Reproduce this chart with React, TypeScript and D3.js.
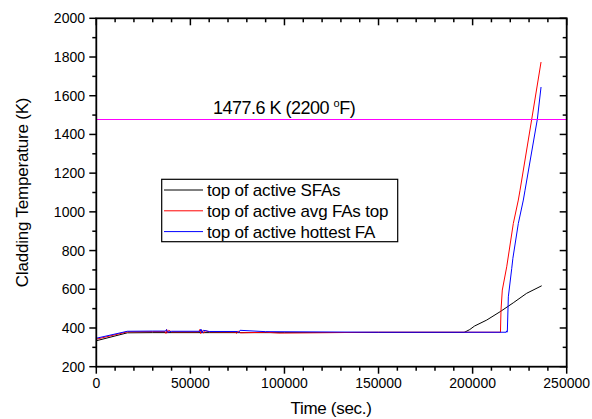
import React from "react";
import * as d3 from "d3";

const xTicks = [0, 50000, 100000, 150000, 200000, 250000];
const yTicks = [200, 400, 600, 800, 1000, 1200, 1400, 1600, 1800, 2000];

const sfaTime = [0, 16500, 30000, 60000, 100000, 150000, 195500, 198500, 201000, 207500, 214600, 221600, 228700, 236700];
const sfaTemp = [334, 375, 376, 376, 376, 377, 377, 392, 410, 441, 484, 530, 579, 618];

const avgTime = [0, 16500, 30000, 36500, 37000, 37400, 37800, 38500, 40000, 54500, 55000, 55500, 56000, 57000, 58000, 60000, 74000, 74500, 75500, 76500, 90000, 97000, 150000, 214800, 215090, 215780, 218120, 221630, 224290, 225200, 231420, 236360];
const avgTemp = [342, 380, 381, 381, 372, 392, 374, 388, 380, 380, 392, 371, 390, 373, 386, 380, 379, 372, 385, 375, 378, 374, 378, 378, 493, 596, 716, 940, 1061, 1112, 1479, 1774];

const hotTime = [0, 16500, 30000, 36800, 37300, 37900, 40000, 55200, 55600, 56300, 57000, 60000, 75000, 75600, 76400, 90000, 150000, 217800, 218100, 218300, 218450, 218980, 220790, 221400, 224290, 226950, 227860, 234400, 236360];
const hotTemp = [347, 383, 384, 384, 392, 378, 383, 383, 394, 375, 388, 382, 382, 376, 388, 381, 378, 378, 385, 378, 381, 561, 708, 760, 940, 1061, 1112, 1479, 1645];

const limitTemp = 1477.6;

const legendItems = [
  { label: "top of active SFAs", color: "#000000" },
  { label: "top of active avg FAs top", color: "#ff0000" },
  { label: "top of active hottest FA", color: "#0000ff" },
];

export default function App() {
  const W = 592, H = 419;
  const left = 96.3, right = 566.7, top = 18.3, bottom = 366.7;
  const x = d3.scaleLinear().domain([0, 250000]).range([left, right]);
  const y = d3.scaleLinear().domain([200, 2000]).range([bottom, top]);

  const mk = (ts: number[], vs: number[]) =>
    d3.line<number>().x((_, i) => x(ts[i])).y((v) => y(v))(vs) || "";

  const xMinor = d3.range(0, 250001, 10000).filter((v) => v % 50000 !== 0);
  const yMinor = d3.range(300, 2000, 200);
  const font = "Liberation Sans, Arial, sans-serif";

  return (
    <svg width={W} height={H} style={{ position: "absolute", left: 0, top: 0, background: "#fff" }}>
      <rect x={0} y={0} width={W} height={H} fill="#fff" />
      {/* data */}
      <path d={mk(sfaTime, sfaTemp)} fill="none" stroke="#000" strokeWidth={1} />
      <path d={mk(avgTime, avgTemp)} fill="none" stroke="#ff0000" strokeWidth={1} />
      <path d={mk(hotTime, hotTemp)} fill="none" stroke="#0000ff" strokeWidth={1} />
      {/* limit line */}
      <line x1={left} x2={right} y1={Math.floor(y(limitTemp)) + 0.5} y2={Math.floor(y(limitTemp)) + 0.5} stroke="#ff00ff" strokeWidth={1} />
      <text x={213} y={114} fontFamily={font} fontSize={18} letterSpacing={-0.5} fill="#000">
        1477.6 K (2200 <tspan dy={-7} fontSize={11}>o</tspan><tspan dy={7}>F)</tspan>
      </text>
      {/* frame */}
      <rect x={left} y={top} width={right - left} height={bottom - top} fill="none" stroke="#000" strokeWidth={1.8} />
      {/* x ticks */}
      {xTicks.map((t) => (
        <g key={"xt" + t}>
          <line x1={x(t)} x2={x(t)} y1={bottom} y2={bottom + 7} stroke="#000" strokeWidth={1.5} />
          <line x1={x(t)} x2={x(t)} y1={top} y2={top + 7} stroke="#000" strokeWidth={1.5} />
          <text x={x(t)} y={388} textAnchor="middle" fontFamily={font} fontSize={14} fill="#000">{t}</text>
        </g>
      ))}
      {xMinor.map((t) => (
        <g key={"xm" + t}>
          <line x1={x(t)} x2={x(t)} y1={bottom} y2={bottom + 4} stroke="#000" strokeWidth={1.5} />
          <line x1={x(t)} x2={x(t)} y1={top} y2={top + 4} stroke="#000" strokeWidth={1.5} />
        </g>
      ))}
      {/* y ticks */}
      {yTicks.map((t) => (
        <g key={"yt" + t}>
          <line x1={left - 7} x2={left} y1={y(t)} y2={y(t)} stroke="#000" strokeWidth={1.5} />
          <line x1={right - 7} x2={right} y1={y(t)} y2={y(t)} stroke="#000" strokeWidth={1.5} />
          <text x={85} y={y(t) + 5} textAnchor="end" fontFamily={font} fontSize={14} fill="#000">{t}</text>
        </g>
      ))}
      {yMinor.map((t) => (
        <g key={"ym" + t}>
          <line x1={left - 4} x2={left} y1={y(t)} y2={y(t)} stroke="#000" strokeWidth={1.5} />
          <line x1={right - 4} x2={right} y1={y(t)} y2={y(t)} stroke="#000" strokeWidth={1.5} />
        </g>
      ))}
      {/* axis titles */}
      <text x={331} y={414} textAnchor="middle" fontFamily={font} fontSize={17} letterSpacing={-0.3} fill="#000">Time (sec.)</text>
      <text transform={`translate(28,${(top + bottom) / 2}) rotate(-90)`} textAnchor="middle" fontFamily={font} fontSize={17} letterSpacing={-0.2} fill="#000">
        Cladding Temperature (K)
      </text>
      {/* legend */}
      <rect x={161.7} y={179.3} width={236} height={62.4} fill="#fff" stroke="#000" strokeWidth={1.2} />
      {legendItems.map((d, i) => (
        <g key={d.label}>
          <line x1={164} x2={203} y1={190 + i * 20.8} y2={190 + i * 20.8} stroke={d.color} strokeWidth={1} />
          <text x={207} y={196 + i * 20.8} fontFamily={font} fontSize={17} letterSpacing={-0.2} fill="#000">{d.label}</text>
        </g>
      ))}
    </svg>
  );
}
